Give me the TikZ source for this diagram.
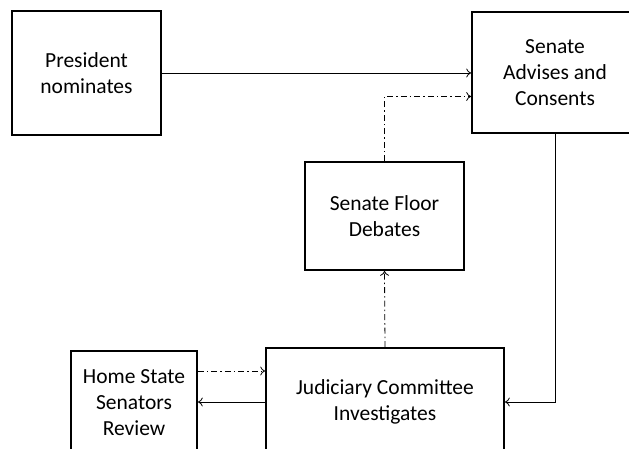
\documentclass[tikz,border=0pt]{standalone}
\usepackage{fontspec}
\setmainfont{Carlito}
\begin{document}
\begin{tikzpicture}[x=1pt,y=-1pt,
  box/.style={draw, line width=1.6pt, align=center, inner sep=0pt,
    font=\fontsize{21.5}{26}\selectfont},
  conn/.style={line width=0.8pt, ->, >={To[length=5pt,width=9pt]}},
  dd/.style={conn, dash pattern=on 6pt off 3pt on 1.5pt off 3pt}]
\useasboundingbox (0,0) rectangle (629,449);
\clip (0,0) rectangle (629,449);
\usetikzlibrary{arrows.meta}
\node[box, minimum width=149pt, minimum height=124pt] (pres) at (86.5,73) {President\\nominates};
\node[box, minimum width=166pt, minimum height=121pt] (adv) at (555,72.5) {Senate\\Advises and\\Consents};
\node[box, minimum width=159pt, minimum height=108pt] (floor) at (384.5,216) {Senate Floor\\Debates};
\node[box, minimum width=238pt, minimum height=108pt] (jud) at (385,402) {Judiciary Committee\\Investigates};
\node[box, minimum width=126pt, minimum height=104pt] (home) at (134,403) {Home State\\Senators\\Review};
\draw[conn] (pres.east) -- (pres.east -| adv.west);
\draw[dd] (floor.north) |- ([yshift=-24pt]adv.west);
\draw[dd] (jud.north) -- (floor.south);
\draw[conn] (adv.south) |- (jud.east);
\draw[dd] ([yshift=32pt]home.east) -- ([yshift=32pt]home.east -| jud.west);
\draw[conn] (jud.west) -- (jud.west -| home.east);
\end{tikzpicture}
\end{document}
